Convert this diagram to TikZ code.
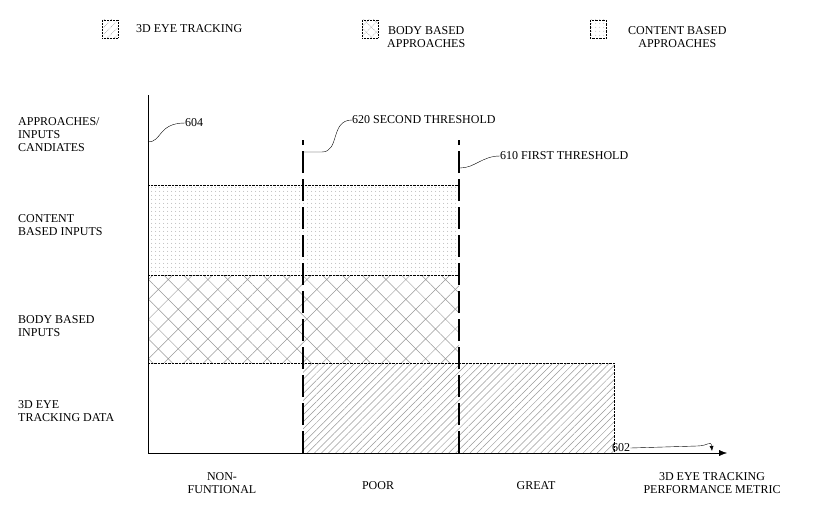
\documentclass[tikz,border=0pt]{standalone}
\usepackage{fontspec}
\setmainfont{Liberation Serif}
\usetikzlibrary{patterns.meta,arrows.meta}
\begin{document}
\begin{tikzpicture}[x=1pt,y=-1pt,
  lbl/.style={font=\fontsize{12}{13}\selectfont,inner sep=0pt},
  eye/.style={pattern={Lines[angle=45,distance=5pt,line width=0.5pt]},pattern color=gray!80},
  bod/.style={pattern={Hatch[angle=45,distance=14pt,line width=0.5pt]},pattern color=gray!80},
  con/.style={pattern={Dots[distance=4pt,radius=0.5pt]},pattern color=gray!80},
  thr/.style={line width=1.6pt,dash pattern=on 22pt off 6pt},
  lead/.style={thin}]
\useasboundingbox (0,0) rectangle (826,527);
% legend
\draw[eye,densely dotted] (102,20) rectangle (118,38);
\node[lbl,anchor=west] (l1) at (136,29) {3D EYE TRACKING};
\draw[pattern={Hatch[angle=45,distance=7pt,line width=0.5pt]},pattern color=gray!80,densely dotted] (362,20) rectangle (378,38);
\node[lbl,anchor=west,align=center] (l2) at (387,37) {BODY BASED\\APPROACHES};
\draw[con,densely dotted] (590,20) rectangle (606,38);
\node[lbl,anchor=west,align=center] (l3) at (628,37) {CONTENT BASED\\APPROACHES};
% bars
\path[con] (148,185) rectangle (459,275);
\path[bod] (148,275) rectangle (459,363);
\path[eye] (303,363) rectangle (614,453);
\draw[densely dotted] (148,185) -- (459,185);
\draw[densely dotted] (148,275) -- (459,275);
\draw[densely dotted] (148,363) -- (614,363) -- (614,453);
% axes
\coordinate (o) at (148,453);
\coordinate (ytop) at (148,95);
\coordinate (xend) at (727,453);
\draw (o) -- (ytop);
\draw[-{Latex[length=8pt,width=6pt]}] (o) -- (xend);
% thresholds
\draw[thr] (303,453) -- (303,140);
\draw[thr] (459,453) -- (459,140);
% leaders
\node[lbl,anchor=west] (n604) at (185,123) {604};
\draw[lead] (148,142) .. controls (162,142) and (158,123) .. (n604.west);
\node[lbl,anchor=west] (n620) at (352,120) {620 SECOND THRESHOLD};
\draw[lead] (303,152) -- (322,152) .. controls (340,152) and (330,120) .. (n620.west);
\node[lbl,anchor=west] (n610) at (500,156) {610 FIRST THRESHOLD};
\draw[lead] (460,168) .. controls (475,168) and (482,156) .. (n610.west);
\node[lbl,anchor=west] (n602) at (612,448) {602};
\coordinate (a602) at (712,451);
\draw[lead,-{Latex[length=5pt,width=4pt]}] (n602.east) -- (697,446) .. controls (708,446) and (711,440) .. (a602);
% row labels
\node[lbl,anchor=north west,align=left] (r0) at (18,117) {APPROACHES/\\INPUTS\\CANDIATES};
\node[lbl,anchor=north west,align=left] (r1) at (18,214) {CONTENT\\BASED INPUTS};
\node[lbl,anchor=north west,align=left] (r2) at (18,315) {BODY BASED\\INPUTS};
\node[lbl,anchor=north west,align=left] (r3) at (18,400) {3D EYE\\TRACKING DATA};
% column labels
\node[lbl,align=center] (c1) at (222,483) {NON-\\FUNTIONAL};
\node[lbl] (c2) at (378,486) {POOR};
\node[lbl] (c3) at (536,486) {GREAT};
\node[lbl,align=center] (c4) at (712,483) {3D EYE TRACKING\\PERFORMANCE METRIC};
\end{tikzpicture}
\end{document}
